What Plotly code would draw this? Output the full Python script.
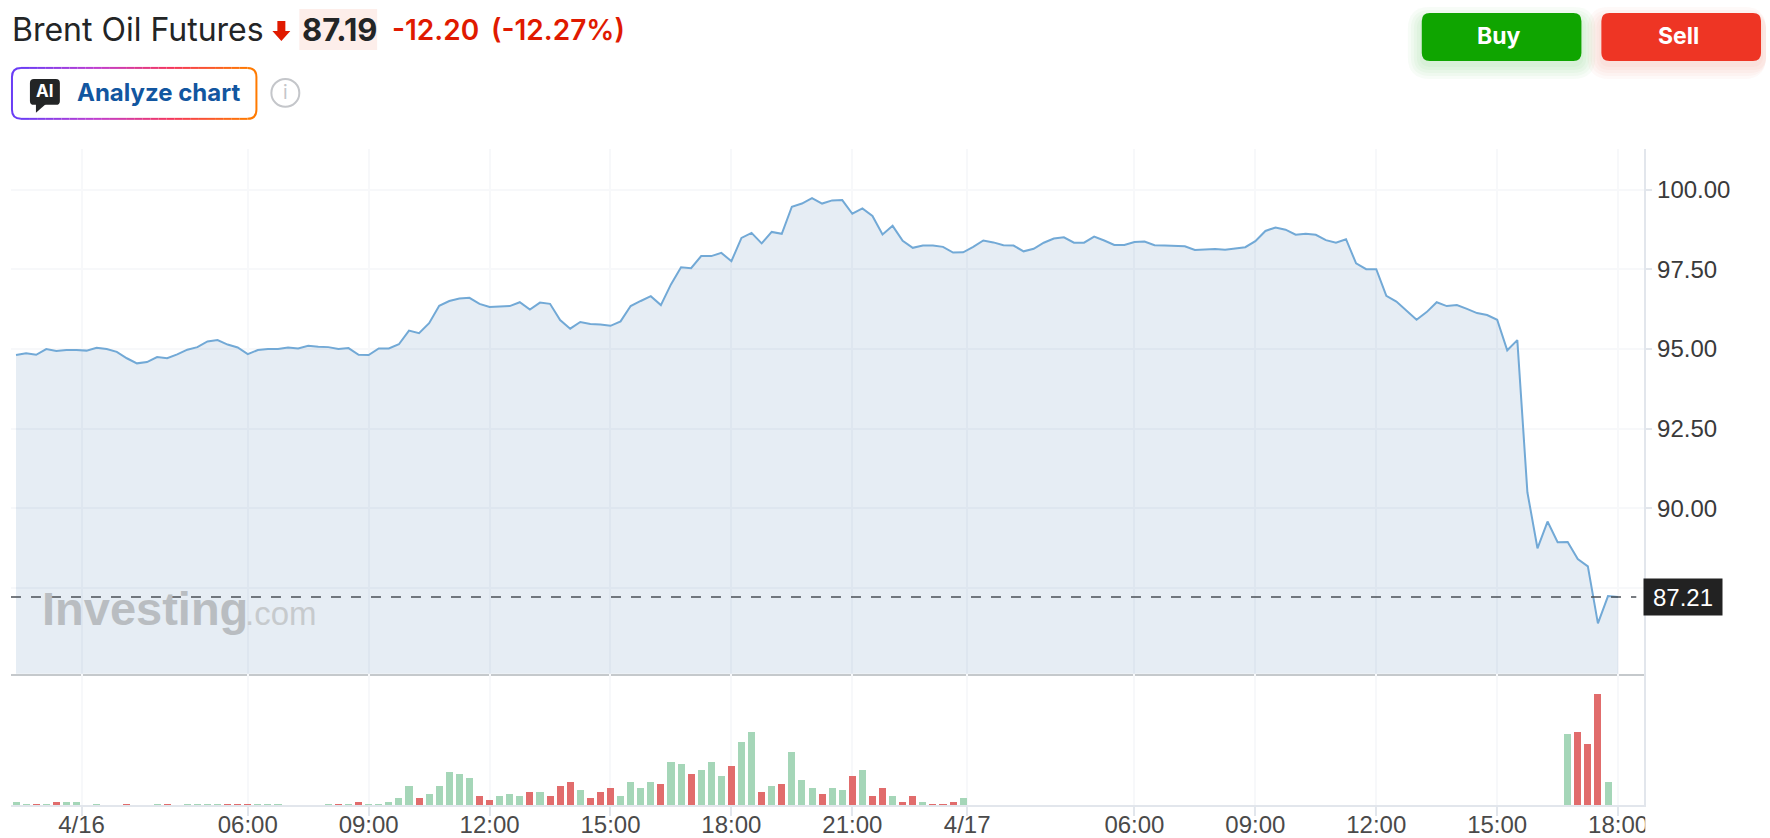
import plotly.graph_objects as go

W, H = 1770, 838

# price per 15 min bar
prices = [
    94.81, 94.87, 94.82, 95.00, 94.94, 94.97, 94.97, 94.95, 95.04, 95.00,
    94.91, 94.71, 94.55, 94.59, 94.75, 94.71, 94.83, 94.98, 95.06, 95.24,
    95.28, 95.14, 95.05, 94.84, 94.97, 95.00, 95.00, 95.05, 95.02, 95.10,
    95.07, 95.06, 95.00, 95.03, 94.82, 94.81, 95.02, 95.02, 95.15, 95.58,
    95.50, 95.81, 96.36, 96.51, 96.59, 96.61, 96.42, 96.32, 96.34, 96.35,
    96.47, 96.24, 96.46, 96.42, 95.91, 95.64, 95.85, 95.79, 95.77, 95.73,
    95.87, 96.35, 96.51, 96.66, 96.38, 97.03, 97.57, 97.54, 97.92, 97.92,
    98.02, 97.76, 98.49, 98.65, 98.32, 98.68, 98.62, 99.47, 99.57, 99.74,
    99.57, 99.67, 99.68, 99.25, 99.42, 99.18, 98.60, 98.87, 98.40, 98.18,
    98.25, 98.25, 98.21, 98.03, 98.04, 98.21, 98.41, 98.35, 98.26, 98.25,
    98.07, 98.15, 98.34, 98.47, 98.51, 98.34, 98.34, 98.53, 98.41, 98.27,
    98.27, 98.36, 98.38, 98.26, 98.25, 98.25, 98.23, 98.11, 98.12, 98.14,
    98.12, 98.15, 98.20, 98.39, 98.71, 98.82, 98.75, 98.59, 98.62, 98.59,
    98.42, 98.34, 98.45, 97.69, 97.51, 97.51, 96.67, 96.49, 96.21, 95.92,
    96.16, 96.47, 96.35, 96.38, 96.26, 96.13, 96.07, 95.92, 94.96, 95.28,
    90.50, 88.74, 89.58, 88.93, 88.94, 88.40, 88.17, 86.38, 87.24, 87.21,
]

volumes = [
    10, 4, 4, 4, 10, 10, 10, 0, 4, 0,
    0, 4, 0, 0, 4, 4, 0, 4, 4, 4,
    4, 4, 4, 4, 4, 4, 4, 0, 0, 0,
    0, 4, 4, 4, 10, 4, 4, 10, 22, 58,
    22, 34, 58, 100, 94, 82, 28, 16, 28, 34,
    28, 40, 40, 28, 58, 70, 46, 22, 40, 52,
    28, 70, 52, 70, 64, 130, 124, 94, 106, 130,
    88, 118, 190, 220, 40, 58, 64, 160, 76, 52,
    34, 52, 46, 88, 106, 28, 52, 28, 10, 28,
    10, 4, 4, 10, 22, 0, 0, 0, 0, 0,
    0, 0, 0, 0, 0, 0, 0, 0, 0, 0,
    0, 0, 0, 0, 0, 0, 0, 0, 0, 0,
    0, 0, 0, 0, 0, 0, 0, 0, 0, 0,
    0, 0, 0, 0, 0, 0, 0, 0, 0, 0,
    0, 0, 0, 0, 0, 0, 0, 0, 0, 0,
    0, 0, 0, 0, 215, 221, 185, 335, 71, 0,
]

# bars where the price went down
down_bars = [2, 4, 11, 15, 21, 22, 23, 32, 34, 40, 46, 47, 51, 53, 54, 55, 57, 58, 59,
             64, 67, 71, 74, 76, 80, 83, 85, 86, 88, 89, 91, 92, 93, 155, 156, 157]

x_tick_bars = [6.5, 23, 35, 47, 59, 71, 83, 94.4, 111, 123, 135, 147, 159]
x_tick_labels = ["4/16", "06:00", "09:00", "12:00", "15:00", "18:00", "21:00",
                 "4/17", "06:00", "09:00", "12:00", "15:00", "18:00"]
y_ticks = [87.5, 90, 92.5, 95, 97.5, 100]
y_tick_labels = ["87.50", "90.00", "92.50", "95.00", "97.50", "100.00"]

last_price = 87.21
bars = list(range(len(prices)))


# header and buttons are placed in screen pixels
def px(x):
    return x / W


def py(y):
    return 1 - y / H


def rrect(x0, y0, x1, y1, r):
    return (f"M{px(x0 + r)},{py(y0)} L{px(x1 - r)},{py(y0)} Q{px(x1)},{py(y0)} {px(x1)},{py(y0 + r)} "
            f"L{px(x1)},{py(y1 - r)} Q{px(x1)},{py(y1)} {px(x1 - r)},{py(y1)} "
            f"L{px(x0 + r)},{py(y1)} Q{px(x0)},{py(y1)} {px(x0)},{py(y1 - r)} "
            f"L{px(x0)},{py(y0 + r)} Q{px(x0)},{py(y0)} {px(x0 + r)},{py(y0)} Z")


def poly(points):
    return "M" + " L".join(f"{px(a)},{py(b)}" for a, b in points) + " Z"


def path_shape(path, fill, layer="above"):
    return dict(type="path", xref="paper", yref="paper", path=path, fillcolor=fill,
                line=dict(width=0), layer=layer)


def label(text, x, y, size, color, weight=400, family="Inter", anchor="left"):
    return dict(text=text, x=px(x), y=py(y), xref="paper", yref="paper", xanchor=anchor, yanchor="middle",
                showarrow=False, font=dict(family=family, size=size, color=color, weight=weight))


def mix(stops, t):
    pos = t * (len(stops) - 1)
    i = min(int(pos), len(stops) - 2)
    f = pos - i
    c = [round(stops[i][k] + (stops[i + 1][k] - stops[i][k]) * f) for k in range(3)]
    return f"rgb({c[0]},{c[1]},{c[2]})"


fig = go.Figure()

fig.add_trace(go.Scatter(
    x=bars, y=prices, mode="lines", xaxis="x", yaxis="y",
    line=dict(color="#72a9d6", width=2),
    fill="tozeroy", fillcolor="rgba(27,88,156,0.11)",
    hoverinfo="skip", showlegend=False,
))

bar_colors = ["#e16c6c" if b in down_bars else "#a5d6b8" for b in bars]
fig.add_trace(go.Bar(
    x=bars, y=volumes, xaxis="x2", yaxis="y2", width=0.7,
    marker=dict(color=bar_colors, line=dict(width=0)),
    hoverinfo="skip", showlegend=False,
))

shapes = []

# last price line
shapes.append(dict(type="line", xref="paper", yref="y", x0=px(11), x1=px(1640), y0=last_price, y1=last_price,
                   line=dict(color="#4b5057", width=1.5, dash="10px,10px"), layer="above"))

# the last x label is cut off by the chart area
shapes.append(dict(type="rect", xref="paper", yref="paper", x0=px(1649), x1=1, y0=0, y1=py(808),
                   fillcolor="white", line=dict(width=0), layer="above"))

# buy / sell with a soft shadow, kept inside the page width
for x0, x1, base, glow in [(1425, 1585, "#0fa500", "rgba(15,165,0,0.03)"),
                           (1605, 1765, "#ee3524", "rgba(238,53,36,0.03)")]:
    for grow in [14, 11, 8, 5, 2]:
        shapes.append(path_shape(rrect(x0 - grow, 13 + 8 - grow, min(x1 + grow, W), 61 + 4 + grow, 8 + grow), glow))
    shapes.append(path_shape(rrect(x0, 13, x1, 61, 8), base))

# price box and arrow
shapes.append(path_shape(rrect(300, 9, 378, 50, 0.01), "#fdeeea"))
shapes.append(path_shape(poly([(278, 21), (286, 21), (286, 31), (291, 31), (282, 41), (273, 31), (278, 31)]), "#e01a00"))

# gradient border of the analyze button
bx0, by0, bx1, by1, br = 12, 68, 257, 119, 9
stops = [(106, 61, 245), (192, 63, 208), (245, 54, 92), (255, 122, 0)]
n = 28
for i in range(n):
    a = bx0 + br + (bx1 - bx0 - 2 * br) * i / n
    b = bx0 + br + (bx1 - bx0 - 2 * br) * (i + 1) / n
    for yy in (by0, by1):
        shapes.append(dict(type="line", xref="paper", yref="paper", x0=px(a), x1=px(b), y0=py(yy), y1=py(yy),
                           line=dict(color=mix(stops, (i + 0.5) / n), width=2), layer="above"))
shapes.append(dict(type="path", xref="paper", yref="paper", layer="above", line=dict(color=mix(stops, 0), width=2),
                   path=f"M{px(bx0 + br)},{py(by0)} Q{px(bx0)},{py(by0)} {px(bx0)},{py(by0 + br)} "
                        f"L{px(bx0)},{py(by1 - br)} Q{px(bx0)},{py(by1)} {px(bx0 + br)},{py(by1)}"))
shapes.append(dict(type="path", xref="paper", yref="paper", layer="above", line=dict(color=mix(stops, 1), width=2),
                   path=f"M{px(bx1 - br)},{py(by0)} Q{px(bx1)},{py(by0)} {px(bx1)},{py(by0 + br)} "
                        f"L{px(bx1)},{py(by1 - br)} Q{px(bx1)},{py(by1)} {px(bx1 - br)},{py(by1)}"))

# AI icon
shapes.append(path_shape(rrect(30, 79, 60, 105, 4), "#232526"))
shapes.append(path_shape(poly([(36, 104), (36, 113), (46, 104)]), "#232526"))

# info icon
shapes.append(dict(type="circle", xref="paper", yref="paper", x0=px(272), x1=px(300), y0=py(79), y1=py(107),
                   line=dict(color="#c4c6ca", width=2), layer="above"))

annotations = [
    label("Brent Oil Futures", 10, 30, 32, "#232526"),
    label("87.19", 301, 30, 31, "#232526", 700),
    label("-12.20", 391, 30, 28, "#e01a00", 600),
    label("(-12.27%)", 490, 30, 28, "#e01a00", 600),
    label("AI", 45, 91, 17, "white", 700, anchor="center"),
    label("Analyze chart", 75, 93, 24, "#1256a0", 700),
    label("i", 286, 93, 19, "#c4c6ca", 400, anchor="center"),
    label("Buy", 1502, 36, 23, "white", 700, anchor="center"),
    label("Sell", 1682, 36, 23, "white", 700, anchor="center"),
    label("Investing", 40, 609, 47, "#b9bdc1", 700, family="Liberation Sans"),
    label(".com", 244, 614, 33, "#c6cacd", 400, family="Liberation Sans"),
    # last price tag
    dict(text=str(last_price), x=px(1647), y=last_price, xref="paper", yref="y", xanchor="left", yanchor="middle",
         showarrow=False, bgcolor="#222222", width=78, height=36, borderpad=0, align="center",
         font=dict(family="Liberation Sans", size=24, color="white")),
]

grid = "#f7f8fa"
axis_line = "#e2e6ec"
x_range = [-0.5, 161.6]

fig.update_layout(
    width=W, height=H,
    margin=dict(l=0, r=0, t=0, b=0),
    paper_bgcolor="white", plot_bgcolor="white",
    showlegend=False, bargap=0,
    shapes=shapes, annotations=annotations,
    xaxis=dict(domain=[px(11), px(1648)], range=x_range, anchor="y", tickmode="array",
               tickvals=x_tick_bars, ticktext=x_tick_labels, showticklabels=False, ticks="",
               showgrid=True, gridcolor=grid, gridwidth=1.5, zeroline=False,
               showline=True, linecolor="#c5c9cc", linewidth=2),
    yaxis=dict(domain=[py(674.5), py(149)], range=[84.8, 101.29], anchor="x", side="right", tickmode="array",
               tickvals=y_ticks, ticktext=y_tick_labels, ticks="outside", ticklen=6, tickwidth=2, tickcolor=axis_line,
               tickfont=dict(family="Liberation Sans", size=24, color="#3a3a3a"),
               showgrid=True, gridcolor=grid, gridwidth=1.5, zeroline=False,
               showline=True, linecolor=axis_line, linewidth=2),
    # labels are pulled up so they stay inside the page height
    xaxis2=dict(domain=[px(11), px(1648)], matches="x", anchor="y2", tickmode="array",
                tickvals=x_tick_bars, ticktext=x_tick_labels, ticks="outside", ticklen=9, tickwidth=2,
                tickcolor=axis_line, tickangle=0, ticklabelstandoff=-12,
                tickfont=dict(family="Liberation Sans", size=24, color="#4a4a4a"),
                showgrid=True, gridcolor=grid, gridwidth=1.5, zeroline=False,
                showline=True, linecolor=axis_line, linewidth=2),
    yaxis2=dict(domain=[py(806), py(674.5)], range=[0, 394], anchor="x2", side="right", showticklabels=False,
                ticks="", showgrid=False, zeroline=False, showline=True, linecolor=axis_line, linewidth=2),
)

fig.write_html("out.html", config=dict(displayModeBar=False),
               post_script="document.body.style.margin='0';document.body.style.overflow='hidden';")
